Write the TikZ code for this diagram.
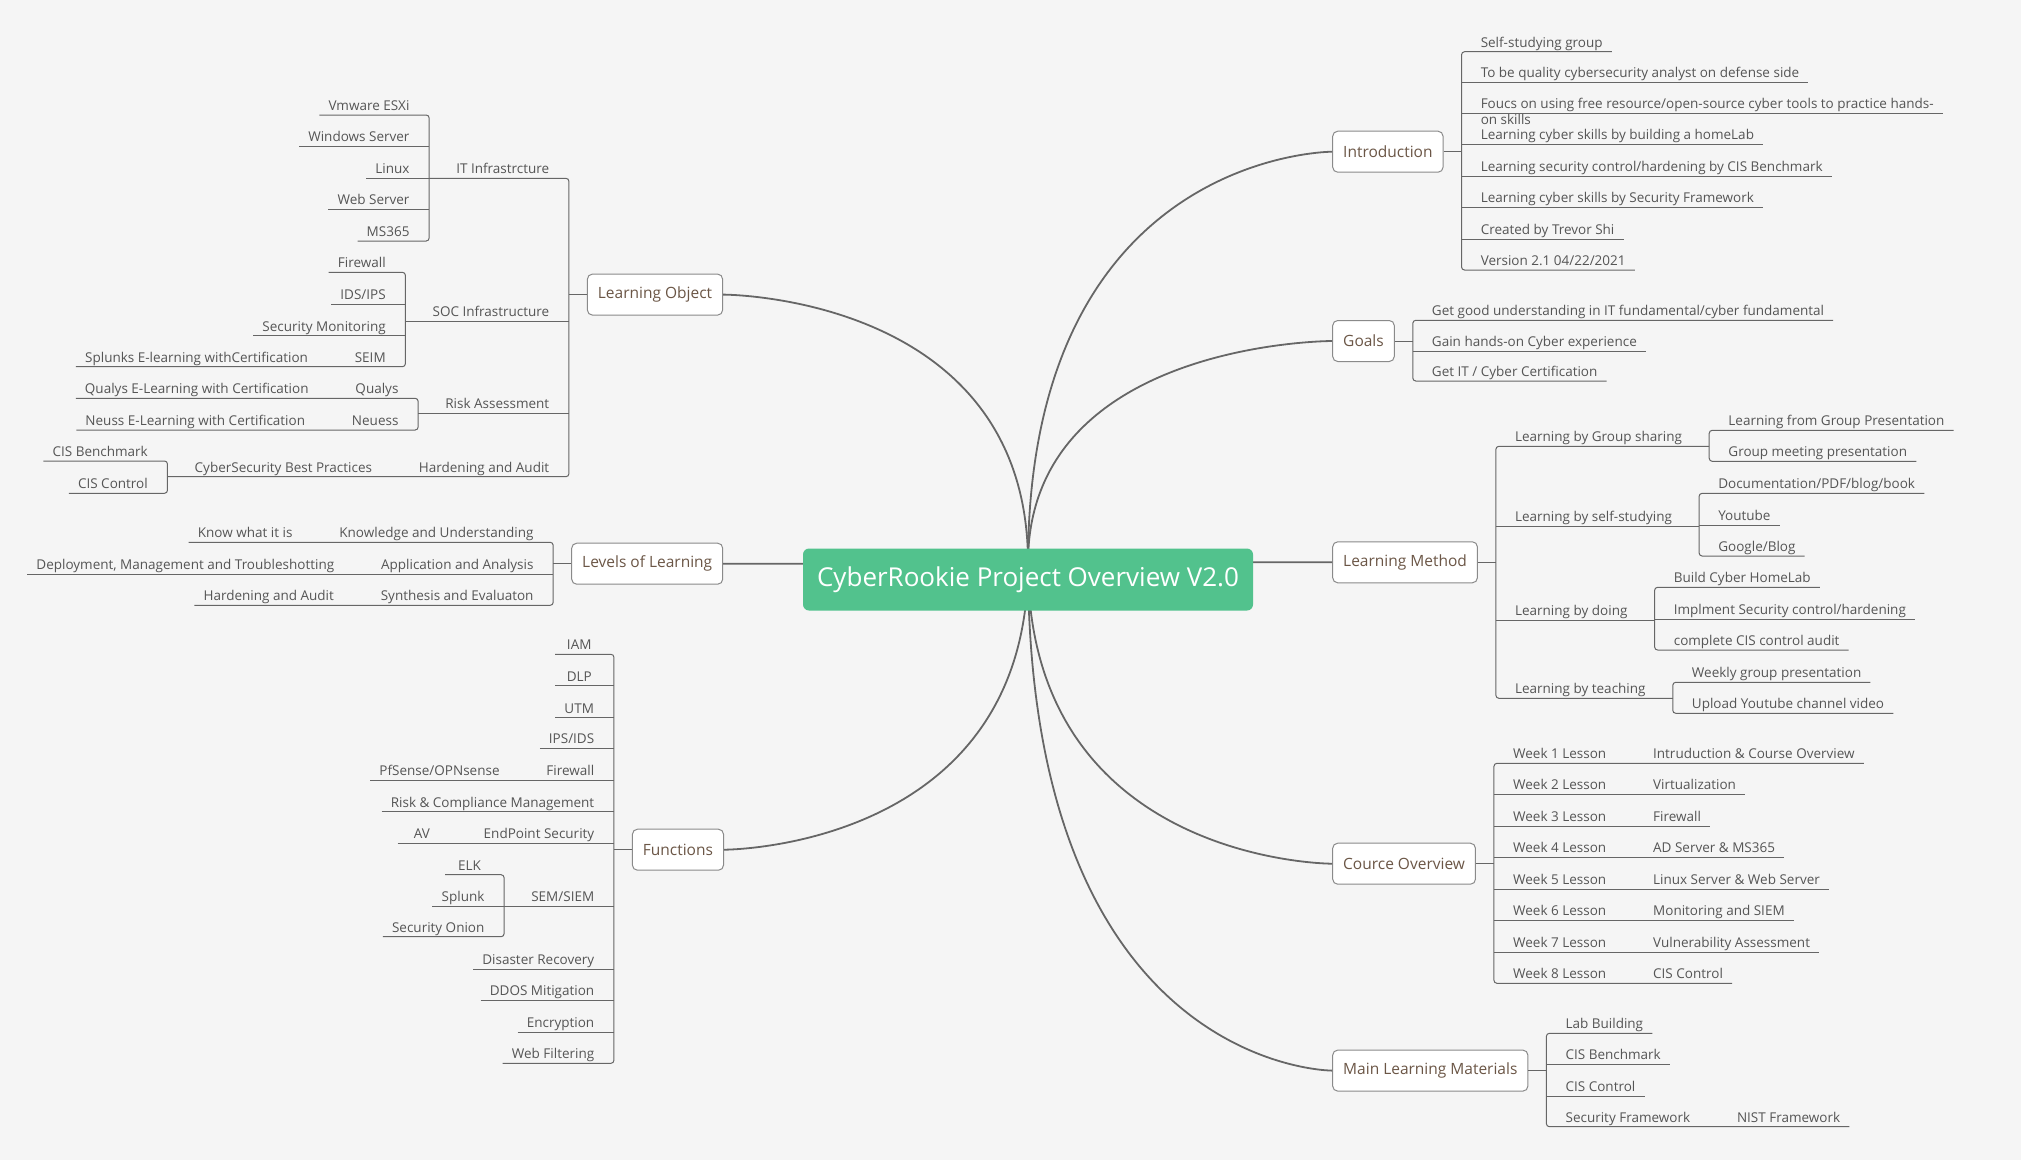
\documentclass[tikz,border=0pt]{standalone}
\usepackage{fontspec}
\setmainfont{Open Sans}
\usetikzlibrary{calc}
\definecolor{paper}{HTML}{F5F5F5}
\definecolor{linec}{HTML}{666666}
\definecolor{boxc}{HTML}{8A8A8A}
\definecolor{topict}{HTML}{6B5646}
\definecolor{leaft}{HTML}{555555}
\definecolor{rootc}{HTML}{52C28D}
\newcommand\leafsize{\fontsize{13.5}{16}\selectfont}
\newcommand\topicsize{\fontsize{15.5}{18}\selectfont}
\newcommand\rootsize{\fontsize{26}{30}\selectfont}

\begin{document}
\begin{tikzpicture}[x=1pt, y=-1pt,
  hubline/.style={draw=linec, line width=1.8pt},
  link/.style={draw=linec, line width=1pt, rounded corners=3pt},
  root/.style={fill=rootc, rounded corners=6pt, text=white, font=\rootsize,
    minimum width=450pt, minimum height=62pt, inner sep=0pt},
  topic/.style={draw=boxc, line width=1pt, fill=white, rounded corners=5pt,
    font=\topicsize, text=topict, inner xsep=10.5pt, inner ysep=0pt, minimum height=41pt},
  topicL/.style={topic, anchor=east},
  topicR/.style={topic, anchor=west},
  leaf/.style={font=\leafsize, text=leaft, inner xsep=9pt, inner ysep=0pt,
    text height=10pt, text depth=4.5pt, minimum width=48pt},
  leafL/.style={leaf, anchor=south east, xshift=-10.5pt},
  leafR/.style={leaf, anchor=south west, xshift=10pt},
  leafLc/.style={leaf, anchor=south east, xshift=-28.5pt},
  leafRc/.style={leaf, anchor=south west, xshift=28.5pt},
]
\useasboundingbox (0,0) rectangle (2021,1160);
\fill[paper] (0,0) rectangle (2021,1160);

\coordinate (hub) at (1028,563);

% main topics
\node[topicL] (lo)    at (723.1,294.6)  {Learning Object};
\node[topicL] (lol)   at (723.2,563.7)  {Levels of Learning};
\node[topicL] (fn)    at (724,849.7)    {Functions};
\node[topicR] (intro) at (1332.2,151.7) {Introduction};
\node[topicR] (goals) at (1332.2,341)   {Goals};
\node[topicR] (lm)    at (1332.2,562.3) {Learning Method};
\node[topicR] (co)    at (1332.2,863.7) {Cource Overview};
\node[topicR] (mlm)   at (1332.2,1070.6){Main Learning Materials};

% bracket positions of the main topics
\coordinate (loB)  at ([xshift=-18pt]lo.west);
\coordinate (lolB) at ([xshift=-18pt]lol.west);
\coordinate (fnB)  at ([xshift=-18pt]fn.west);
\coordinate (iB)   at ([xshift=18pt]intro.east);
\coordinate (gB)   at ([xshift=18pt]goals.east);
\coordinate (lmB)  at ([xshift=18pt]lm.east);
\coordinate (coB)  at ([xshift=18pt]co.east);
\coordinate (mB)   at ([xshift=18pt]mlm.east);

% ---------------- Learning Object ----------------
\node[leafL] (itI)  at (loB |- 0,178.3) {IT Infrastrcture};
\node[leafL] (soc)  at (loB |- 0,321)   {SOC Infrastructure};
\node[leafL] (risk) at (loB |- 0,413.3) {Risk Assessment};
\node[leafL] (hard) at (loB |- 0,476.7) {Hardening and Audit};
\coordinate (itB)   at ([xshift=-18pt]itI.west);
\coordinate (socB)  at ([xshift=-18pt]soc.west);
\coordinate (riskB) at ([xshift=-18pt]risk.west);

\node[leafL] (vm)  at (itB |- 0,115)   {Vmware ESXi};
\node[leafL] (ws)  at (itB |- 0,146.3) {Windows Server};
\node[leafL] (lx)  at (itB |- 0,178.3) {Linux};
\node[leafL] (wsv) at (itB |- 0,209)   {Web Server};
\node[leafL] (ms)  at (itB |- 0,241)   {MS365};

\node[leafL] (fw1)  at (socB |- 0,272.3) {Firewall};
\node[leafL] (ids1) at (socB |- 0,304.3) {IDS/IPS};
\node[leafL] (secm) at (socB |- 0,335.7) {Security Monitoring};
\node[leafL] (seim) at (socB |- 0,366.7) {SEIM};
\node[leafLc] (splk) at (seim.south west) {Splunks E-learning withCertification};

\node[leafL] (qual) at (riskB |- 0,398.3) {Qualys};
\node[leafL] (neu)  at (riskB |- 0,430)   {Neuess};
\node[leafLc] (quale) at (qual.south west) {Qualys E-Learning with Certification};
\node[leafLc] (neue)  at (neu.south west)  {Neuss E-Learning with Certification};

\node[leafLc] (cbp) at (hard.south west) {CyberSecurity Best Practices};
\coordinate (cbpB) at ([xshift=-18pt]cbp.west);
\node[leafL] (cisb) at (cbpB |- 0,461)   {CIS Benchmark};
\node[leafL] (cisc) at (cbpB |- 0,493.3) {CIS Control};

\draw[link] (lo.west) -- (loB);
\draw[link] (itI.south -| itB) -- (itI.south -| loB) -- (hard.south -| loB) -- (cbp.south -| cbpB);
\draw[link] (soc.south -| socB) -- (soc.south -| loB);
\draw[link] (risk.south -| riskB) -- (risk.south -| loB);

\draw[link] (vm.south west) -- (vm.south -| itB) -- (ms.south -| itB) -- (ms.south west);
\draw[link] (ws.south west) -- (ws.south -| itB);
\draw[link] (lx.south west) -- (lx.south -| itB);
\draw[link] (wsv.south west) -- (wsv.south -| itB);

\draw[link] (fw1.south west) -- (fw1.south -| socB) -- (seim.south -| socB) -- (splk.south west);
\draw[link] (ids1.south west) -- (ids1.south -| socB);
\draw[link] (secm.south west) -- (secm.south -| socB);

\draw[link] (quale.south west) -- (qual.south -| riskB) -- (neu.south -| riskB) -- (neue.south west);
\draw[link] (cisb.south west) -- (cisb.south -| cbpB) -- (cisc.south -| cbpB) -- (cisc.south west);

% ---------------- Levels of Learning ----------------
\node[leafL] (ku) at (lolB |- 0,542.3) {Knowledge and Understanding};
\node[leafL] (aa) at (lolB |- 0,574)   {Application and Analysis};
\node[leafL] (se) at (lolB |- 0,605.3) {Synthesis and Evaluaton};
\node[leafLc] (kwi) at (ku.south west) {Know what it is};
\node[leafLc] (dmt) at (aa.south west) {Deployment, Management and Troubleshotting};
\node[leafLc] (ha2) at (se.south west) {Hardening and Audit};

\draw[link] (lol.west) -- (lolB);
\draw[link] (kwi.south west) -- (ku.south -| lolB) -- (se.south -| lolB) -- (ha2.south west);
\draw[link] (dmt.south west) -- (aa.south -| lolB);

% ---------------- Functions ----------------
\node[leafL] (iam)    at (fnB |- 0,654.3)  {IAM};
\node[leafL] (dlp)    at (fnB |- 0,685.7)  {DLP};
\node[leafL] (utm)    at (fnB |- 0,717.7)  {UTM};
\node[leafL] (ipsids) at (fnB |- 0,748.3)  {IPS/IDS};
\node[leafL] (fw2)    at (fnB |- 0,780.3)  {Firewall};
\node[leafL] (rcm)    at (fnB |- 0,811.7)  {Risk \& Compliance Management};
\node[leafL] (eps)    at (fnB |- 0,843.3)  {EndPoint Security};
\node[leafL] (siem)   at (fnB |- 0,906.5)  {SEM/SIEM};
\node[leafL] (dr)     at (fnB |- 0,969.3)  {Disaster Recovery};
\node[leafL] (ddos)   at (fnB |- 0,1000)   {DDOS Mitigation};
\node[leafL] (enc)    at (fnB |- 0,1032.3) {Encryption};
\node[leafL] (wf)     at (fnB |- 0,1063.3) {Web Filtering};
\node[leafLc] (pfs) at (fw2.south west) {PfSense/OPNsense};
\node[leafLc] (av)  at (eps.south west) {AV};
\coordinate (siemB) at ([xshift=-18pt]siem.west);
\node[leafL] (elk)    at (siemB |- 0,874.7) {ELK};
\node[leafL] (splunk) at (siemB |- 0,906.5) {Splunk};
\node[leafL] (sonion) at (siemB |- 0,936.7) {Security Onion};

\draw[link] (fn.west) -- (fnB);
\draw[link] (iam.south west) -- (iam.south -| fnB) -- (wf.south -| fnB) -- (wf.south west);
\foreach \n in {dlp, utm, ipsids, rcm, dr, ddos, enc}
  \draw[link] (\n.south west) -- (\n.south -| fnB);
\draw[link] (pfs.south west) -- (fw2.south -| fnB);
\draw[link] (av.south west) -- (eps.south -| fnB);
\draw[link] (siem.south -| siemB) -- (siem.south -| fnB);
\draw[link] (elk.south west) -- (elk.south -| siemB) -- (sonion.south -| siemB) -- (sonion.south west);
\draw[link] (splunk.south west) -- (splunk.south -| siemB);

% ---------------- Introduction ----------------
\node[leafR] (i1) at (iB |- 0,51.7)  {Self-studying group};
\node[leafR] (i2) at (iB |- 0,82.3)  {To be quality cybersecurity analyst on defense side};
\node[leafR] (i3) at (iB |- 0,113.3) {\begin{tabular}[t]{@{}l@{}}Foucs on using free resource/open-source cyber tools to practice hands-\\on skills\end{tabular}};
\node[leafR] (i4) at (iB |- 0,144.3) {Learning cyber skills by building a homeLab};
\node[leafR] (i5) at (iB |- 0,176)   {Learning security control/hardening by CIS Benchmark};
\node[leafR] (i6) at (iB |- 0,207)   {Learning cyber skills by Security Framework};
\node[leafR] (i7) at (iB |- 0,239)   {Created by Trevor Shi};
\node[leafR] (i8) at (iB |- 0,270)   {Version 2.1 04/22/2021};

\draw[link] (intro.east) -- (iB);
\draw[link] (i1.south east) -- (i1.south -| iB) -- (i8.south -| iB) -- (i8.south east);
\foreach \n in {i2, i3, i4, i5, i6, i7}
  \draw[link] (\n.south -| iB) -- (\n.south east);

% ---------------- Goals ----------------
\node[leafR] (g1) at (gB |- 0,320.3) {Get good understanding in IT fundamental/cyber fundamental};
\node[leafR] (g2) at (gB |- 0,351)   {Gain hands-on Cyber experience};
\node[leafR] (g3) at (gB |- 0,381)   {Get IT / Cyber Certification};

\draw[link] (goals.east) -- (gB);
\draw[link] (g1.south east) -- (g1.south -| gB) -- (g3.south -| gB) -- (g3.south east);
\draw[link] (g2.south -| gB) -- (g2.south east);

% ---------------- Learning Method ----------------
\node[leafR] (lm1) at (lmB |- 0,446.3) {Learning by Group sharing};
\node[leafR] (lm2) at (lmB |- 0,526.3) {Learning by self-studying};
\node[leafR] (lm3) at (lmB |- 0,620)   {Learning by doing};
\node[leafR] (lm4) at (lmB |- 0,698.3) {Learning by teaching};
\coordinate (lm1B) at ([xshift=18pt]lm1.east);
\coordinate (lm2B) at ([xshift=18pt]lm2.east);
\coordinate (lm3B) at ([xshift=18pt]lm3.east);
\coordinate (lm4B) at ([xshift=18pt]lm4.east);

\node[leafR] (lm1a) at (lm1B |- 0,430.3) {Learning from Group Presentation};
\node[leafR] (lm1b) at (lm1B |- 0,461.3) {Group meeting presentation};
\node[leafR] (lm2a) at (lm2B |- 0,493.3) {Documentation/PDF/blog/book};
\node[leafR] (lm2b) at (lm2B |- 0,525.3) {Youtube};
\node[leafR] (lm2c) at (lm2B |- 0,556)   {Google/Blog};
\node[leafR] (lm3a) at (lm3B |- 0,587.3) {Build Cyber HomeLab};
\node[leafR] (lm3b) at (lm3B |- 0,619.3) {Implment Security control/hardening};
\node[leafR] (lm3c) at (lm3B |- 0,650)   {complete CIS control audit};
\node[leafR] (lm4a) at (lm4B |- 0,682.3) {Weekly group presentation};
\node[leafR] (lm4b) at (lm4B |- 0,713.3) {Upload Youtube channel video};

\draw[link] (lm.east) -- (lmB);
\draw[link] (lm1.south -| lm1B) -- (lm1.south -| lmB) -- (lm4.south -| lmB) -- (lm4.south -| lm4B);
\draw[link] (lm2.south -| lmB) -- (lm2.south -| lm2B);
\draw[link] (lm3.south -| lmB) -- (lm3.south -| lm3B);
\draw[link] (lm1a.south east) -- (lm1a.south -| lm1B) -- (lm1b.south -| lm1B) -- (lm1b.south east);
\draw[link] (lm2a.south east) -- (lm2a.south -| lm2B) -- (lm2c.south -| lm2B) -- (lm2c.south east);
\draw[link] (lm2b.south -| lm2B) -- (lm2b.south east);
\draw[link] (lm3a.south east) -- (lm3a.south -| lm3B) -- (lm3c.south -| lm3B) -- (lm3c.south east);
\draw[link] (lm3b.south -| lm3B) -- (lm3b.south east);
\draw[link] (lm4a.south east) -- (lm4a.south -| lm4B) -- (lm4b.south -| lm4B) -- (lm4b.south east);

% ---------------- Cource Overview ----------------
\foreach \k/\y/\topic in {1/763.3/Intruduction \& Course Overview, 2/794.3/Virtualization,
    3/826.3/Firewall, 4/857/AD Server \& MS365, 5/889.3/Linux Server \& Web Server,
    6/920/Monitoring and SIEM, 7/952/Vulnerability Assessment, 8/983.3/CIS Control}{
  \node[leafR] (w\k) at (coB |- 0,\y) {Week \k\ Lesson};
  \node[leafRc] (c\k) at (w\k.south east) {\topic};
}
\draw[link] (co.east) -- (coB);
\draw[link] (c1.south east) -- (w1.south -| coB) -- (w8.south -| coB) -- (c8.south east);
\foreach \k in {2,...,7}
  \draw[link] (w\k.south -| coB) -- (c\k.south east);

% ---------------- Main Learning Materials ----------------
\node[leafR] (m1) at (mB |- 0,1033.3) {Lab Building};
\node[leafR] (m2) at (mB |- 0,1064)   {CIS Benchmark};
\node[leafR] (m3) at (mB |- 0,1096)   {CIS Control};
\node[leafR] (m4) at (mB |- 0,1126.7) {Security Framework};
\node[leafRc] (nist) at (m4.south east) {NIST Framework};

\draw[link] (mlm.east) -- (mB);
\draw[link] (m1.south east) -- (m1.south -| mB) -- (m4.south -| mB) -- (nist.south east);
\draw[link] (m2.south -| mB) -- (m2.south east);
\draw[link] (m3.south -| mB) -- (m3.south east);

% ---------------- central topic and its curves ----------------
\foreach \t/\a in {lo/east, lol/east, fn/east, intro/west, goals/west, lm/west, co/west, mlm/west}
  \draw[hubline] (hub) .. controls (hub |- \t.\a) and (\t.\a) .. (\t.\a);

\node[root] (root) at (1028,579.5) {CyberRookie Project Overview V2.0};
\end{tikzpicture}
\end{document}
